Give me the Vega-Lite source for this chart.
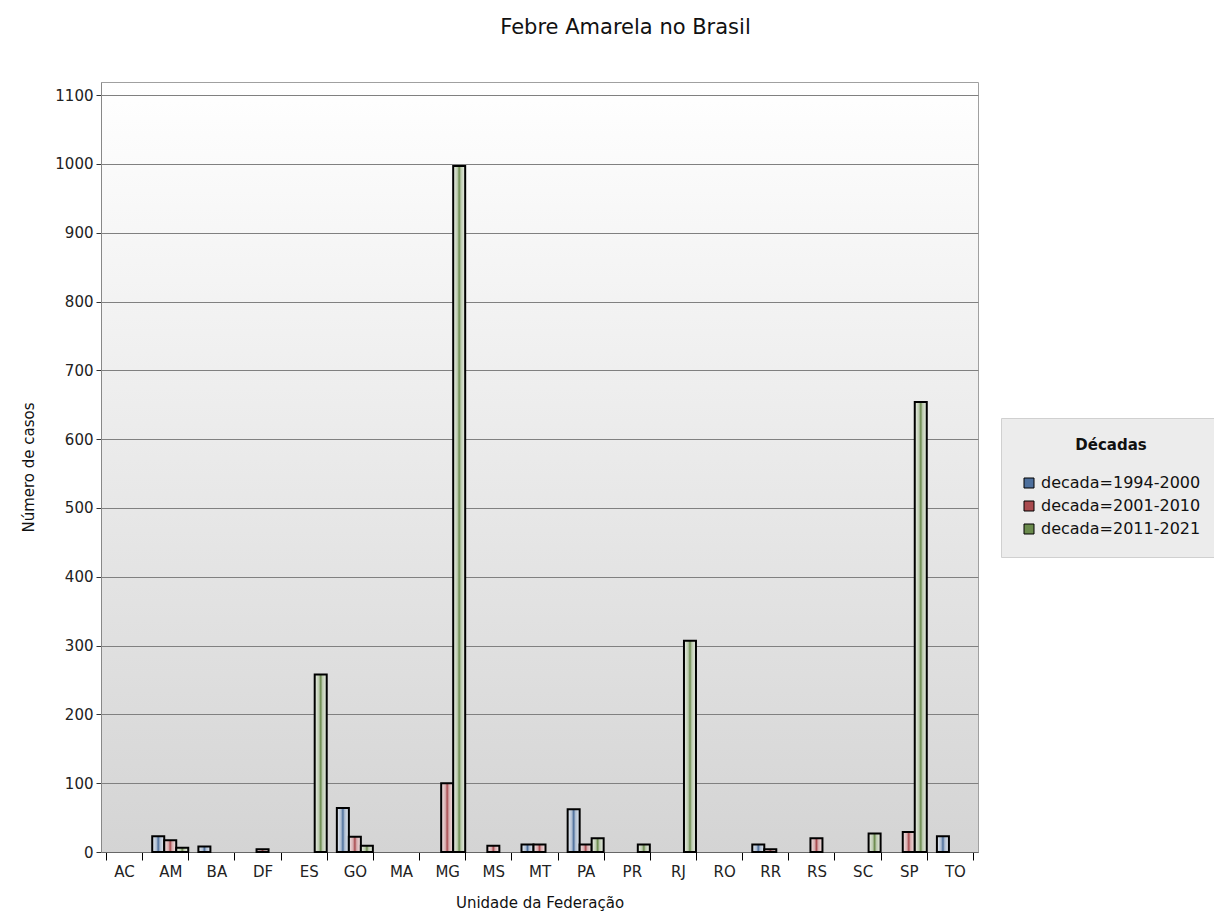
{
  "$schema": "https://vega.github.io/schema/vega-lite/v6.json",
  "width": 877,
  "height": 770,
  "autosize": "none",
  "padding": {"left": 101, "top": 82, "right": 236, "bottom": 64},
  "background": "white",
  "title": {"text": "Febre Amarela no Brasil", "font": "DejaVu Sans", "fontSize": 21, "fontWeight": "normal", "color": "#111111", "anchor": "middle", "dx": 86, "offset": 44},
  "config": {
    "view": {"fill": {"gradient": "linear", "x1": 0, "y1": 0, "x2": 0, "y2": 1, "stops": [{"offset": 0, "color": "#ffffff"}, {"offset": 1, "color": "#d4d4d4"}]}, "stroke": "#a0a0a0", "strokeWidth": 1},
    "axis": {"labelFont": "DejaVu Sans", "labelFontSize": 15, "labelColor": "#222222", "titleFont": "DejaVu Sans", "titleFontSize": 15, "titleFontWeight": "normal", "titleColor": "#111111"},
    "legend": {"labelFont": "DejaVu Sans", "titleFont": "DejaVu Sans"}
  },
  "data": {"values": [
    {"uf": "AM", "decada": "1994-2000", "casos": 23},
    {"uf": "AM", "decada": "2001-2010", "casos": 17},
    {"uf": "AM", "decada": "2011-2021", "casos": 6},
    {"uf": "BA", "decada": "1994-2000", "casos": 8},
    {"uf": "DF", "decada": "2001-2010", "casos": 4},
    {"uf": "ES", "decada": "2011-2021", "casos": 258},
    {"uf": "GO", "decada": "1994-2000", "casos": 64},
    {"uf": "GO", "decada": "2001-2010", "casos": 22},
    {"uf": "GO", "decada": "2011-2021", "casos": 9},
    {"uf": "MG", "decada": "2001-2010", "casos": 100},
    {"uf": "MG", "decada": "2011-2021", "casos": 997},
    {"uf": "MS", "decada": "2001-2010", "casos": 9},
    {"uf": "MT", "decada": "1994-2000", "casos": 11},
    {"uf": "MT", "decada": "2001-2010", "casos": 11},
    {"uf": "PA", "decada": "1994-2000", "casos": 62},
    {"uf": "PA", "decada": "2001-2010", "casos": 11},
    {"uf": "PA", "decada": "2011-2021", "casos": 20},
    {"uf": "PR", "decada": "2011-2021", "casos": 11},
    {"uf": "RJ", "decada": "2011-2021", "casos": 307},
    {"uf": "RR", "decada": "1994-2000", "casos": 11},
    {"uf": "RR", "decada": "2001-2010", "casos": 4},
    {"uf": "RS", "decada": "2001-2010", "casos": 20},
    {"uf": "SC", "decada": "2011-2021", "casos": 27},
    {"uf": "SP", "decada": "2001-2010", "casos": 29},
    {"uf": "SP", "decada": "2011-2021", "casos": 654},
    {"uf": "TO", "decada": "1994-2000", "casos": 23}
  ]},
  "encoding": {
    "x": {"field": "uf", "type": "nominal",
      "scale": {"domain": ["AC","AM","BA","DF","ES","GO","MA","MG","MS","MT","PA","PR","RJ","RO","RR","RS","SC","SP","TO"], "paddingInner": 0.22, "paddingOuter": 0.11},
      "axis": {"title": "Unidade da Federação", "labelAngle": 0, "tickBand": "extent", "tickSize": 8, "tickColor": "#000000", "domainColor": "#666666", "labelPadding": 4, "titlePadding": 16}},
    "xOffset": {"field": "decada", "type": "nominal", "scale": {"domain": ["1994-2000","2001-2010","2011-2021"]}},
    "y": {"field": "casos", "type": "quantitative",
      "scale": {"domain": [0, 1119], "nice": false},
      "axis": {"title": "Número de casos", "format": "d", "values": [0,100,200,300,400,500,600,700,800,900,1000,1100], "grid": true, "gridColor": "#808080", "gridOpacity": 1, "tickColor": "#333333", "tickSize": 5, "domainColor": "#888888", "labelPadding": 3, "titlePadding": 18}}
  },
  "layer": [
    {
      "mark": {"type": "bar"},
      "encoding": {
        "color": {"field": "decada", "type": "nominal",
          "scale": {"domain": ["1994-2000","2001-2010","2011-2021"], "range": ["#4d6f9c","#a84a4e","#6a8a4c"]},
          "legend": {"title": "Décadas", "orient": "none", "legendX": 900, "legendY": 336, "padding": 20, "fillColor": "#ececec", "strokeColor": "#d0d0d0",
            "titleFontSize": 15, "titleFontWeight": "bold", "titleColor": "#111111", "titleAnchor": "middle", "titlePadding": 22,
            "labelFontSize": 16, "labelColor": "#111111", "labelExpr": "'decada=' + datum.label",
            "symbolType": "square", "symbolSize": 100, "symbolStrokeColor": "#000000", "symbolStrokeWidth": 1, "symbolOpacity": 1, "rowPadding": 7, "labelOffset": 4}}
      }
    },
    {
      "mark": {"type": "bar", "stroke": "#000000", "strokeWidth": 2,
        "fill": {"gradient": "linear", "x1": 0, "y1": 0, "x2": 1, "y2": 0, "stops": [
          {"offset": 0, "color": "rgba(255,255,255,0.88)"},
          {"offset": 0.35, "color": "rgba(255,255,255,0.55)"},
          {"offset": 0.5, "color": "rgba(255,255,255,0)"},
          {"offset": 0.65, "color": "rgba(255,255,255,0.55)"},
          {"offset": 1, "color": "rgba(255,255,255,0.88)"}]}},
      "encoding": {}
    }
  ]
}
